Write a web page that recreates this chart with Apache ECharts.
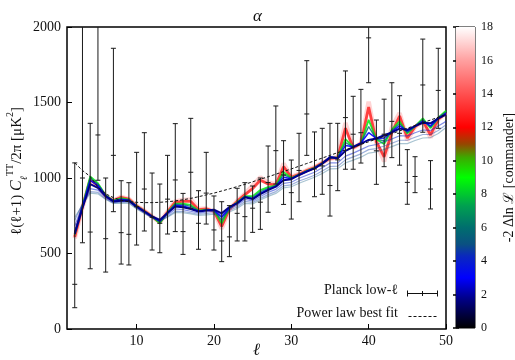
<!DOCTYPE html>
<html><head><meta charset="utf-8">
<script src="https://cdn.jsdelivr.net/npm/echarts@6/dist/echarts.min.js"></script>
<style>html,body{margin:0;padding:0;background:#fff}#c{width:515px;height:360px}</style>
</head><body><div id="c"></div>
<script>
// multipoles for the model curves
const ell = [2,3,4,5,6,7,8,9,10,11,12,13,14,15,16,17,18,19,20,21,22,23,24,25,26,27,28,29,30,31,32,33,34,35,36,37,38,39,40,41,42,43,44,45,46,47,48,49,50];

// model curves, each with its -2 Delta ln L value
const curveNavy  = [630,800,960,935,880,845,850,850,810,778,745,722,768,812,806,795,778,784,790,766,808,832,872,860,893,920,943,985,992,1020,1042,1064,1095,1135,1130,1180,1205,1228,1252,1262,1283,1302,1327,1318,1344,1366,1362,1395,1420];
const curveBlue  = [640,810,985,950,882,847,858,853,812,779,745,715,770,820,815,800,780,786,788,740,805,835,875,862,898,925,945,1005,995,1020,1045,1065,1097,1140,1133,1215,1207,1232,1300,1262,1265,1305,1345,1310,1344,1375,1345,1395,1428];
const curveTeal  = [635,812,1000,958,884,849,862,855,813,780,745,707,771,826,823,812,782,788,786,720,802,838,878,870,908,932,948,1022,998,1021,1046,1066,1097,1138,1134,1235,1205,1230,1340,1258,1245,1312,1360,1302,1343,1385,1338,1398,1437];
const curveGreen = [625,815,1010,965,885,850,866,857,814,780,745,700,772,830,830,822,784,790,784,700,800,840,880,880,920,940,950,1040,1000,1022,1048,1068,1098,1135,1135,1258,1205,1230,1385,1255,1225,1320,1375,1295,1342,1395,1330,1400,1446];
const curveRed   = [610,810,990,950,880,850,872,860,815,782,745,705,775,840,845,845,790,795,780,680,795,845,890,930,985,960,955,1075,1005,1025,1050,1070,1100,1130,1135,1330,1200,1230,1470,1240,1140,1300,1410,1265,1340,1380,1285,1390,1430];
const curvePink  = [600,805,980,945,878,850,875,862,815,783,745,708,778,845,855,858,795,798,778,665,792,848,895,950,1005,970,958,1095,1008,1027,1052,1072,1100,1128,1137,1365,1200,1228,1505,1232,1110,1335,1430,1250,1338,1375,1268,1388,1432];
const curveFan1  = [680,820,930,920,870,840,845,845,805,772,740,718,755,795,790,780,768,775,780,758,795,820,858,848,878,905,925,965,972,998,1018,1038,1068,1100,1100,1145,1165,1188,1212,1222,1240,1258,1280,1278,1300,1318,1315,1345,1375];
const curveFan2  = [720,830,910,905,862,835,838,838,800,768,738,716,745,780,778,770,760,765,770,752,785,808,845,838,865,890,910,948,955,980,998,1018,1046,1076,1078,1120,1140,1160,1188,1195,1212,1230,1250,1250,1270,1288,1288,1315,1352];
const curveFan3  = [740,820,900,895,858,832,832,832,795,765,735,715,740,772,770,762,752,756,760,745,775,798,832,828,855,878,898,935,942,965,985,1005,1030,1060,1062,1100,1118,1138,1165,1172,1190,1208,1228,1228,1248,1265,1268,1295,1335];
const curveLevels = {pink:16, red:12, green:8.6, teal:6, fan3:5.2, fan2:4.6, fan1:4, blue:3, navy:1.8};

// power-law best fit
const powerLaw = [1100,1050,1010,940,895,870,852,843,839,837,837,839,843,848,856,865,876,888,900,914,928,943,958,975,992,1008,1025,1043,1060,1078,1096,1114,1132,1150,1168,1186,1204,1222,1240,1258,1276,1294,1312,1330,1348,1366,1384,1402,1420];

// Planck low-ell points with error bars
const planckEll = [2,3,4,5,6,7,8,9,10,11,12,13,14,15,16,17,18,19,20,21,22,23,24,25,26,27,28,29,30,31,32,33,34,35,36,37,38,39,40,41,42,43,44,45,46,47,48,49];
const planckVal = [296,1000,642,1285,598,1150,638,627,810,927,740,700,860,987,645,1038,700,900,656,583,610,766,744,800,840,970,1181,1020,903,1050,1424,1060,1080,950,1120,1400,1290,1300,1928,1180,1290,1375,1296,971,1010,1616,927,1580];
const planckLo  = [141,571,399,985,377,777,430,424,556,649,523,505,629,645,494,799,528,695,523,446,479,583,583,640,660,773,960,825,728,843,1150,876,892,748,916,1058,1058,1099,1631,958,1075,1135,1085,826,903,1303,795,1329];
const planckHi  = [1100,2600,1362,2400,1000,1859,982,969,1170,1300,1033,960,1150,1360,898,1395,916,1170,881,843,817,932,969,947,1000,1212,1477,1247,1119,1296,1777,1305,1329,1362,1362,1709,1541,1587,2400,1384,1522,1631,1545,1188,1141,1920,1115,1859];

// axis ticks
const xTicks = [10,20,30,40,50];
const cbMin = 0, cbMax = 18, cbStep = 2;

const cmapStops = [[0,[0,0,0]],[1.8,[0,0,140]],[3,[0,0,255]],[4.3,[10,40,190]],[5,[10,80,130]],[6,[0,110,110]],[7.3,[0,160,80]],[9,[0,255,0]],[10.2,[60,170,0]],[11,[150,70,0]],[12,[255,0,0]],[14,[255,80,80]],[16,[255,160,160]],[18,[255,255,255]]];
function cmap(v){
  for(let i=1;i<cmapStops.length;i++){
    const a=cmapStops[i-1], b=cmapStops[i];
    if(v<=b[0]){
      const t=(v-a[0])/(b[0]-a[0]);
      const c=a[1].map((x,k)=>Math.round(x+(b[1][k]-x)*t));
      return 'rgb('+c.join(',')+')';
    }
  }
  return 'rgb(255,255,255)';
}

const serif = "'Liberation Serif','DejaVu Serif',serif";
const chart = echarts.init(document.getElementById('c'));
const pts = arr => ell.map((l,i)=>[l,arr[i]]);
const plain = v => String(v);

const curveDefs = [
  ['pink', curvePink, 4.5, 0.45],
  ['red', curveRed, 2.8, 0.7],
  ['green', curveGreen, 1.8, 0.85],
  ['teal', curveTeal, 1.4, 0.8],
  ['fan3', curveFan3, 1.2, 0.35],
  ['fan2', curveFan2, 1.2, 0.4],
  ['fan1', curveFan1, 1.2, 0.5],
  ['blue', curveBlue, 1.5, 0.9],
  ['navy', curveNavy, 2, 1]
];
const series = curveDefs.map(([n,arr,w,o])=>({
  type:'line', name:n, data:pts(arr), xAxisIndex:0, yAxisIndex:0,
  showSymbol:false, silent:true, z:2,
  lineStyle:{color:cmap(curveLevels[n]), width:w, opacity:o}
}));
series.push({
  type:'line', name:'Power law best fit', data:pts(powerLaw), xAxisIndex:0, yAxisIndex:0,
  showSymbol:false, silent:true, z:4,
  lineStyle:{color:'#111', width:1, type:[3,2]}
});
series.push({
  type:'custom', name:'Planck low-ℓ', xAxisIndex:0, yAxisIndex:0, clip:true, z:5,
  data: planckEll.map((l,i)=>[l, planckVal[i], planckLo[i], planckHi[i]]),
  encode:{x:0,y:1},
  renderItem:(params,api)=>{
    const x=api.value(0);
    const pc=api.coord([x,api.value(1)]), pl=api.coord([x,api.value(2)]), ph=api.coord([x,api.value(3)]);
    const h=2.5, st={stroke:'#1a1a1a', lineWidth:1};
    const hl=(p)=>({type:'line', shape:{x1:p[0]-h,y1:p[1],x2:p[0]+h,y2:p[1]}, style:st});
    return {type:'group', children:[
      {type:'line', shape:{x1:pl[0],y1:pl[1],x2:ph[0],y2:ph[1]}, style:st},
      hl(pl), hl(ph), hl(pc)
    ]};
  }
});
// colour bar
const gradStops = cmapStops.map(s=>({offset:1-(s[0]-cbMin)/(cbMax-cbMin), color:cmap(s[0])})).reverse();
series.push({
  type:'custom', xAxisIndex:1, yAxisIndex:1, data:[[0,0]], silent:true, z:1,
  renderItem:(params,api)=>{
    const cs=params.coordSys;
    return {type:'rect', shape:{x:cs.x,y:cs.y,width:cs.width,height:cs.height},
      style:{fill:{type:'linear',x:0,y:0,x2:0,y2:1,colorStops:gradStops}}};
  }
});

const lbl = {fontFamily:serif, fontSize:14, color:'#111', formatter:plain};
chart.setOption({
  animation:false,
  backgroundColor:'#fff',
  title:{text:'α', left:'center', top:3, textStyle:{fontFamily:serif, fontStyle:'italic', fontWeight:'normal', fontSize:17, color:'#111'}},
  grid:[
    {left:67, top:27, right:69, bottom:31, show:true, borderColor:'#000', borderWidth:1.5, backgroundColor:'transparent', containLabel:false, outerBoundsMode:'none'},
    {left:456, top:27, width:19, bottom:32, show:true, borderColor:'#000', borderWidth:1, backgroundColor:'transparent', containLabel:false, outerBoundsMode:'none'}
  ],
  xAxis:[
    {type:'value', gridIndex:0, min:1, max:50, splitLine:{show:false}, axisLine:{show:false},
     axisTick:{inside:true, length:5, lineStyle:{color:'#000'}, customValues:xTicks},
     axisLabel:{...lbl, margin:5, customValues:xTicks},
     name:'ℓ', nameLocation:'middle', nameGap:13, nameMoveOverlap:false,
     nameTextStyle:{fontFamily:serif, fontStyle:'italic', fontSize:17, color:'#111'}},
    {type:'value', gridIndex:1, min:0, max:1, show:false}
  ],
  yAxis:[
    {type:'value', gridIndex:0, min:0, max:2000, interval:500, splitLine:{show:false}, axisLine:{show:false},
     axisTick:{inside:true, length:5, lineStyle:{color:'#000'}},
     axisLabel:{...lbl, margin:6},
     name:'{a|ℓ(ℓ+1) }{c|C}{s|ℓ}{t|TT}{a|/2π [μK}{t|2}{a|]}', nameLocation:'middle', nameGap:38, nameRotate:90, nameMoveOverlap:false,
     nameTextStyle:{fontFamily:serif, fontSize:15, color:'#111', padding:[0,0,0,14], rich:{
       a:{fontFamily:serif, fontSize:15, color:'#111', lineHeight:24},
       c:{fontFamily:serif, fontStyle:'italic', fontSize:16, color:'#111', lineHeight:24},
       s:{fontFamily:serif, fontStyle:'italic', fontSize:10, color:'#111', verticalAlign:'bottom'},
       t:{fontFamily:serif, fontSize:10, color:'#111', verticalAlign:'top'}
     }}},
    {type:'value', gridIndex:1, min:cbMin, max:cbMax, interval:cbStep, position:'right',
     splitLine:{show:false}, axisLine:{show:false},
     axisTick:{inside:true, length:3, lineStyle:{color:'#000', width:1.5}},
     axisLabel:{fontFamily:serif, fontSize:12, color:'#111', margin:6, formatter:plain},
     name:'-2 Δln ℒ [commander]', nameLocation:'middle', nameGap:27, nameRotate:90, nameMoveOverlap:false,
     nameTextStyle:{fontFamily:serif, fontSize:14, color:'#111'}},
    {type:'value', gridIndex:1, min:cbMin, max:cbMax, interval:cbStep, position:'left',
     splitLine:{show:false}, axisLine:{show:false}, axisLabel:{show:false},
     axisTick:{inside:true, length:3, lineStyle:{color:'#000', width:1.5}}}
  ],
  graphic:[
    {type:'text', right:117, top:283, style:{text:'Planck low-ℓ', fontFamily:serif, fontSize:14, fill:'#111'}},
    {type:'text', right:117, top:306, style:{text:'Power law best fit', fontFamily:serif, fontSize:14, fill:'#111'}},
    {type:'group', left:405, top:288, children:[
      {type:'line', shape:{x1:0,y1:3,x2:30,y2:3}, style:{stroke:'#111', lineWidth:1}},
      {type:'line', shape:{x1:0,y1:0,x2:0,y2:6}, style:{stroke:'#111', lineWidth:1}},
      {type:'line', shape:{x1:30,y1:0,x2:30,y2:6}, style:{stroke:'#111', lineWidth:1}},
      {type:'line', shape:{x1:15,y1:0.5,x2:15,y2:5.5}, style:{stroke:'#111', lineWidth:1}}
    ]},
    {type:'line', left:406, top:314, shape:{x1:0,y1:0,x2:29,y2:0}, style:{stroke:'#111', lineWidth:1, lineDash:[3,2]}}
  ],
  series
});
</script></body></html>
